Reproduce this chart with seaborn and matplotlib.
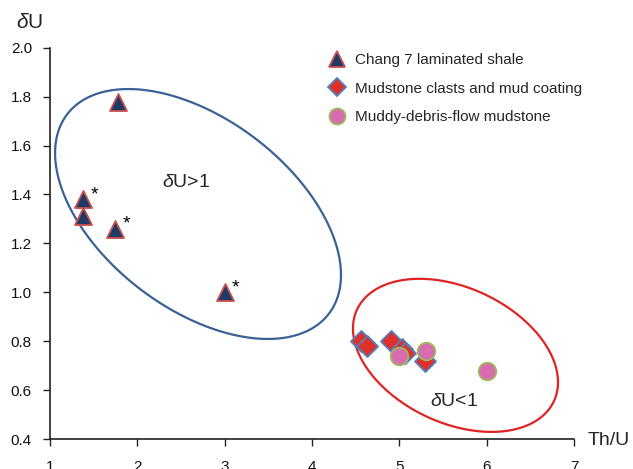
import numpy as np
import pandas as pd
import matplotlib
matplotlib.use("Agg")
import matplotlib.pyplot as plt
import seaborn as sns
from matplotlib.lines import Line2D

# ---------------- data ----------------
shale_x = [1.78, 1.38, 1.38, 1.75, 3.00]
shale_y = [1.78, 1.38, 1.31, 1.26, 1.00]
shale_star = [False, True, False, True, True]

clast_x = [4.56, 4.63, 4.91, 5.03, 5.07, 5.29]
clast_y = [0.80, 0.78, 0.80, 0.77, 0.75, 0.72]

debris_x = [5.00, 5.30, 6.00]
debris_y = [0.74, 0.76, 0.68]

labels = ["Chang 7 laminated shale",
          "Mudstone clasts and mud coating",
          "Muddy-debris-flow mudstone"]

x_ticks = [1, 2, 3, 4, 5, 6, 7]
y_ticks = [0.4, 0.6, 0.8, 1.0, 1.2, 1.4, 1.6, 1.8, 2.0]

# ellipse outlines (centre, half-extents, xy coupling) in data units
blue_ell = dict(cx=2.695, cy=1.320, rx=1.637, ry=0.511, sxy=-0.408)
red_ell = dict(cx=5.643, cy=0.742, rx=1.174, ry=0.313, sxy=-0.129)

# ---------------- style ----------------
sns.set_theme(style="white")
plt.rcParams['font.family'] = ['Liberation Sans', 'DejaVu Sans']
plt.rcParams['mathtext.fontset'] = 'custom'
plt.rcParams['mathtext.it'] = 'Liberation Sans:italic'
plt.rcParams['mathtext.rm'] = 'Liberation Sans'

fig = plt.figure(figsize=(6.33, 4.69), dpi=100)
ax = fig.add_axes([50/633, 1-439/469, 524/633, 391.3/469])

navy = "#1E3A66"
tri_edge = "#C9504D"
dia_fill = "#E0302B"
dia_edge = "#4F81BD"
pink = "#D96BB0"
green = "#9BBB59"

df_s = pd.DataFrame({"x": shale_x, "y": shale_y})
df_c = pd.DataFrame({"x": clast_x, "y": clast_y})
df_d = pd.DataFrame({"x": debris_x, "y": debris_y})


def ellipse(p):
    t = np.linspace(0, 2*np.pi, 400)
    l10 = p["sxy"] / p["rx"]
    l11 = np.sqrt(p["ry"]**2 - l10**2)
    xs = p["cx"] + p["rx"]*np.cos(t)
    ys = p["cy"] + l10*np.cos(t) + l11*np.sin(t)
    return xs, ys

bx, by = ellipse(blue_ell)
ax.plot(bx, by, color="#3A6296", lw=1.6, zorder=1)
rx_, ry_ = ellipse(red_ell)
ax.plot(rx_, ry_, color="#E02424", lw=1.6, zorder=1)

sns.scatterplot(data=df_s, x="x", y="y", ax=ax, marker="^", s=150,
                color=navy, edgecolor=tri_edge, linewidth=1.3, zorder=3)
sns.scatterplot(data=df_c, x="x", y="y", ax=ax, marker="D", s=115,
                color=dia_fill, edgecolor=dia_edge, linewidth=1.3, zorder=4)
sns.scatterplot(data=df_d, x="x", y="y", ax=ax, marker="o", s=160,
                color=pink, edgecolor=green, linewidth=1.3, zorder=5)

for xv, yv, st in zip(shale_x, shale_y, shale_star):
    if st:
        ax.annotate("*", (xv, yv), xytext=(8, 0), textcoords="offset points",
                    fontsize=14, ha="center", va="baseline", color="black")

ax.text(2.28, 1.45, r"$\delta$U>1", fontsize=14, ha="left", va="center")
ax.text(5.35, 0.552, r"$\delta$U<1", fontsize=14, ha="left", va="center")

ax.set_xlim(1, 7)
ax.set_ylim(0.4, 2.0)
ax.set_xticks(x_ticks)
ax.set_yticks(y_ticks)
ax.set_xticklabels([str(v) for v in x_ticks])
ax.set_yticklabels([f"{v:.1f}" for v in y_ticks])
ax.tick_params(axis="both", direction="out", length=5, width=1, color="#222222",
               labelsize=11, labelcolor="#111111")
ax.tick_params(axis="x", pad=10, bottom=True)
ax.tick_params(axis="y", pad=8, left=True)

for side in ["top", "right"]:
    ax.spines[side].set_visible(False)
for side in ["left", "bottom"]:
    ax.spines[side].set_color("#222222")
    ax.spines[side].set_linewidth(1.2)

ax.set_xlabel("Th/U", fontsize=14, ha="left", va="center")
ax.xaxis.set_label_coords((588-50)/524, (439-440)/391.3)
ax.set_ylabel(r"$\delta$U", fontsize=15, rotation=0, ha="center", va="center")
ax.yaxis.set_label_coords((30-50)/524, (439-22)/391.3)

handles = [
    Line2D([], [], ls="", marker="^", markersize=11, markerfacecolor=navy,
           markeredgecolor=tri_edge, markeredgewidth=1.3),
    Line2D([], [], ls="", marker="D", markersize=9, markerfacecolor=dia_fill,
           markeredgecolor=dia_edge, markeredgewidth=1.3),
    Line2D([], [], ls="", marker="o", markersize=11.5, markerfacecolor=pink,
           markeredgecolor=green, markeredgewidth=1.3),
]
leg = ax.legend(handles, labels, loc="upper left",
                bbox_to_anchor=(329/633, 1-53/469), bbox_transform=fig.transFigure,
                frameon=False, fontsize=11, handlelength=1.0, handletextpad=0.7,
                labelspacing=0.95, borderpad=0, borderaxespad=0)

fig.savefig("out.png", dpi=100)
